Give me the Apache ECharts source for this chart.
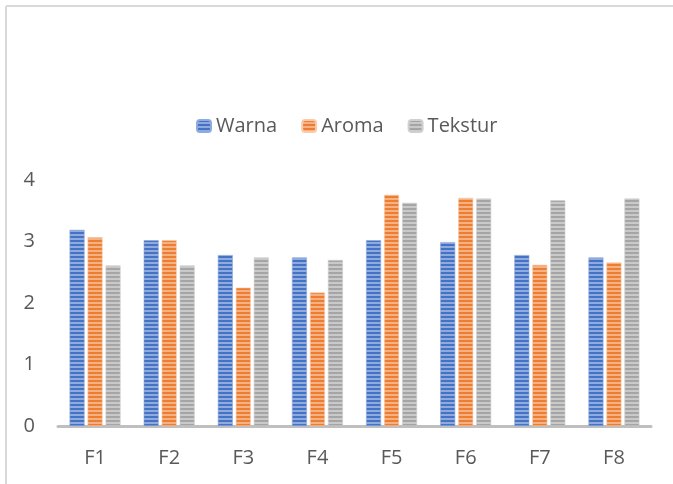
<!DOCTYPE html>
<html>
<head>
<meta charset="utf-8">
<script src="https://cdn.jsdelivr.net/npm/echarts@6/dist/echarts.min.js"></script>
<style>
html,body{margin:0;padding:0;background:#fff;}
#c{width:673px;height:484px;}
</style>
</head>
<body>
<div id="c"></div>
<script>
const categories = ['F1','F2','F3','F4','F5','F6','F7','F8'];
const warna   = [3.19, 3.02, 2.78, 2.74, 3.02, 2.99, 2.78, 2.74];
const aroma   = [3.07, 3.02, 2.25, 2.17, 3.76, 3.71, 2.62, 2.66];
const tekstur = [2.61, 2.61, 2.74, 2.70, 3.63, 3.70, 3.67, 3.70];
const yTicks = [0, 1, 2, 3, 4];

function stripe(dark, light) {
  const cv = document.createElement('canvas');
  cv.width = 4; cv.height = 4;
  const ctx = cv.getContext('2d');
  ctx.fillStyle = dark; ctx.fillRect(0, 0, 4, 4);
  ctx.fillStyle = light; ctx.fillRect(0, 2, 4, 2);
  return { image: cv, repeat: 'repeat' };
}
const font = '"Open Sans", "Liberation Sans", sans-serif';
const chart = echarts.init(document.getElementById('c'), null, {renderer: 'canvas'});
const mk = (name, data, dark, light, border) => ({
  name, type: 'bar', data, barWidth: 15, barGap: '20%',
  itemStyle: { color: stripe(dark, light), borderColor: border, borderWidth: 0.6 },
  emphasis: { disabled: true }
});
chart.setOption({
  animation: false,
  textStyle: { fontFamily: font },
  graphic: [
    { type: 'line', shape: { x1: 6, y1: 6, x2: 673, y2: 6 }, style: { stroke: '#d9d9d9', lineWidth: 2 } },
    { type: 'line', shape: { x1: 6, y1: 6, x2: 6, y2: 484 }, style: { stroke: '#d9d9d9', lineWidth: 2 } }
  ],
  legend: {
    left: 196, top: 116, padding: 0, itemWidth: 14, itemHeight: 12, itemGap: 24,
    textStyle: { fontSize: 20, color: '#595959', fontFamily: font },
    data: ['Warna', 'Aroma', 'Tekstur']
  },
  grid: { left: 58, right: 22, top: 180, bottom: 58, containLabel: false },
  xAxis: {
    type: 'category', data: categories,
    axisLine: { lineStyle: { color: '#bfbfbf', width: 3 } },
    axisTick: { show: false },
    axisLabel: { fontSize: 20, color: '#595959', margin: 22, fontFamily: font }
  },
  yAxis: {
    type: 'value', min: yTicks[0], max: yTicks[yTicks.length-1], interval: 1,
    axisLine: { show: false }, axisTick: { show: false }, splitLine: { show: false },
    axisLabel: { fontSize: 20, color: '#595959', margin: 23, fontFamily: font }
  },
  series: [
    mk('Warna', warna, '#4472c4', '#8faadc', '#8faadc'),
    mk('Aroma', aroma, '#ed7d31', '#f4b183', '#f8cbad'),
    mk('Tekstur', tekstur, '#a5a5a5', '#c9c9c9', '#d0d0d0')
  ]
});
</script>
</body>
</html>
